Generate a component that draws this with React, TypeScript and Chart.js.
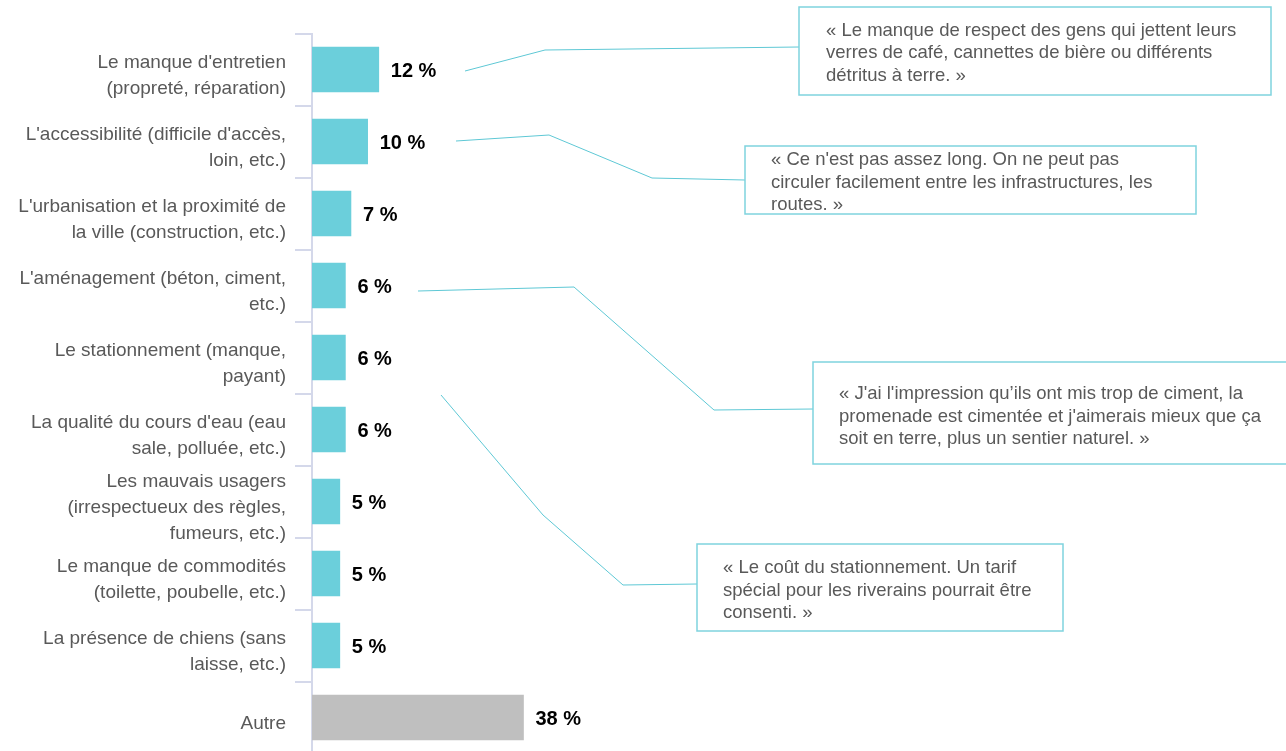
import React, { useEffect, useRef } from "react";
import { Chart, registerables } from "chart.js";

Chart.register(...registerables);

const categories: string[][] = [
  ["Le manque d'entretien", "(propreté, réparation)"],
  ["L'accessibilité (difficile d'accès,", "loin, etc.)"],
  ["L'urbanisation et la proximité de", "la ville (construction, etc.)"],
  ["L'aménagement (béton, ciment,", "etc.)"],
  ["Le stationnement (manque,", "payant)"],
  ["La qualité du cours d'eau (eau", "sale, polluée, etc.)"],
  ["Les mauvais usagers", "(irrespectueux des règles,", "fumeurs, etc.)"],
  ["Le manque de commodités", "(toilette, poubelle, etc.)"],
  ["La présence de chiens (sans", "laisse, etc.)"],
  ["Autre"],
];

const values: number[] = [12, 10, 7, 6, 6, 6, 5, 5, 5, 38];

const valueLabels: string[] = values.map((v) => `${v} %`);

const quote1: string[] = [
  "« Le manque de respect des gens qui jettent leurs",
  "verres de café, cannettes de bière ou différents",
  "détritus à terre. »",
];
const quote2: string[] = [
  "« Ce n'est pas assez long. On ne peut pas",
  "circuler facilement entre les infrastructures, les",
  "routes. »",
];
const quote3: string[] = [
  "« J'ai l'impression qu’ils ont mis trop de ciment, la",
  "promenade est cimentée et j'aimerais mieux que ça",
  "soit en terre, plus un sentier naturel. »",
];
const quote4: string[] = [
  "« Le coût du stationnement. Un tarif",
  "spécial pour les riverains pourrait être",
  "consenti. »",
];

const TEAL = "#6bcfdb";
const GREY = "#bfbfbf";
const FONT = "'Liberation Sans', Arial, sans-serif";

// layout of the callouts (annotation geometry)
const callouts = [
  {
    lines: quote1,
    box: [799, 7, 1271, 95],
    textX: 826,
    lineY: [29.5, 52, 74.5],
    path: [[465, 71], [545, 50], [799, 47]],
  },
  {
    lines: quote2,
    box: [745, 146, 1196, 214],
    textX: 771,
    lineY: [159, 182, 204],
    path: [[456, 141], [549, 135], [652, 178], [745, 180]],
  },
  {
    lines: quote3,
    box: [813, 362, 1290, 464],
    textX: 839,
    lineY: [392.5, 415.5, 437.5],
    path: [[418, 291], [574, 287], [714, 410], [813, 409]],
  },
  {
    lines: quote4,
    box: [697, 544, 1063, 631],
    textX: 723,
    lineY: [566.5, 589.5, 611.5],
    path: [[441, 395], [543, 515], [623, 585], [697, 584]],
  },
];

const annotPlugin = {
  id: "annot",
  afterDatasetsDraw(chart: any) {
    const ctx = chart.ctx as CanvasRenderingContext2D;
    const meta = chart.getDatasetMeta(0);
    ctx.save();
    ctx.font = `bold 20px ${FONT}`;
    ctx.fillStyle = "#000000";
    ctx.textAlign = "left";
    ctx.textBaseline = "middle";
    meta.data.forEach((el: any, i: number) => {
      ctx.fillText(valueLabels[i], el.x + 12, el.y + 2);
    });
    ctx.restore();
  },
  afterDraw(chart: any) {
    const ctx = chart.ctx as CanvasRenderingContext2D;
    ctx.save();
    callouts.forEach((c) => {
      ctx.strokeStyle = "#5ec8d5";
      ctx.lineWidth = 1;
      ctx.beginPath();
      c.path.forEach((p, i) => {
        if (i === 0) ctx.moveTo(p[0], p[1]);
        else ctx.lineTo(p[0], p[1]);
      });
      ctx.stroke();
      const [x1, y1, x2, y2] = c.box;
      ctx.fillStyle = "#ffffff";
      ctx.fillRect(x1, y1, x2 - x1, y2 - y1);
      ctx.strokeStyle = "#7fd3de";
      ctx.lineWidth = 1.5;
      ctx.strokeRect(x1, y1, x2 - x1, y2 - y1);
      ctx.fillStyle = "#595959";
      ctx.font = `18.5px ${FONT}`;
      ctx.textAlign = "left";
      ctx.textBaseline = "middle";
      c.lines.forEach((t, i) => ctx.fillText(t, c.textX, c.lineY[i] + 1));
    });
    ctx.restore();
  },
};

export default function App() {
  const ref = useRef<HTMLCanvasElement | null>(null);
  useEffect(() => {
    if (!ref.current) return;
    const chart = new Chart(ref.current, {
      type: "bar",
      data: {
        labels: categories,
        datasets: [
          {
            data: values,
            backgroundColor: values.map((_, i) => (i === values.length - 1 ? GREY : TEAL)),
            borderWidth: 0,
            barThickness: 45,
          },
        ],
      },
      options: {
        indexAxis: "y",
        animation: false,
        responsive: false,
        devicePixelRatio: 1,
        layout: { padding: { top: 33.5, bottom: 1.5, left: 0, right: 0 } },
        plugins: {
          legend: { display: false },
          tooltip: { enabled: false },
        },
        scales: {
          x: {
            display: false,
            min: 0,
            max: 175,
          },
          y: {
            afterFit: (s: any) => {
              s.width = 312;
              s.paddingTop = 0;
              s.paddingBottom = 0;
            },
            grid: {
              display: true,
              drawOnChartArea: false,
              offset: true,
              tickLength: 17,
              color: "#d4d8ea",
              lineWidth: 2,
            },
            border: { display: true, color: "#d4d8ea", width: 2 },
            ticks: {
              padding: 9,
              labelOffset: 6,
              color: "#595959",
              font: { family: FONT, size: 19, lineHeight: 1.38 },
              autoSkip: false,
            },
          },
        },
      },
      plugins: [annotPlugin],
    } as any);
    return () => chart.destroy();
  }, []);
  return (
    <div
      style={{
        position: "fixed",
        left: 0,
        top: 0,
        width: 1286,
        height: 751,
        overflow: "hidden",
        background: "#fff",
      }}
    >
      <canvas ref={ref} width={1286} height={755} style={{ display: "block" }} />
    </div>
  );
}
